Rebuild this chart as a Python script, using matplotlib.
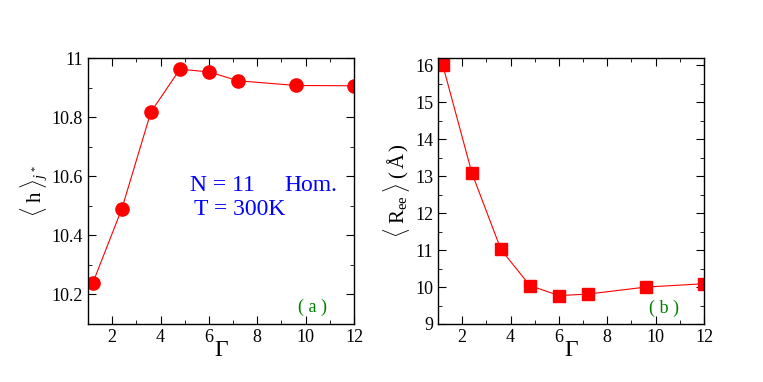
import numpy as np
import matplotlib
matplotlib.use("Agg")
import matplotlib.pyplot as plt
from matplotlib.ticker import MultipleLocator

# data
gamma = [1.2, 2.4, 3.6, 4.8, 6.0, 7.2, 9.6, 12.0]
h_jstar = [10.239, 10.49, 10.817, 10.962, 10.953, 10.923, 10.907, 10.906]
r_ee = [16.0, 13.09, 11.02, 10.04, 9.77, 9.81, 10.0, 10.09]

plt.rcParams['font.family'] = ['Liberation Serif', 'DejaVu Serif']
plt.rcParams['mathtext.fontset'] = 'custom'
plt.rcParams['mathtext.rm'] = 'Liberation Serif'
plt.rcParams['mathtext.it'] = 'Liberation Serif:italic'

fig = plt.figure(figsize=(7.63, 3.82), dpi=100)
W, H = 763, 382
ax1 = fig.add_axes([88 / W, 1 - 324 / H, (354 - 88) / W, (324 - 58) / H])
ax2 = fig.add_axes([438 / W, 1 - 324 / H, (704 - 438) / W, (324 - 58) / H])

ax1.plot(gamma, h_jstar, color='red', lw=0.8, marker='o', ms=9.5)
ax2.plot(gamma, r_ee, color='red', lw=0.8, marker='s', ms=8)

for ax in (ax1, ax2):
    ax.set_xlim(1, 12)
    ax.xaxis.set_major_locator(MultipleLocator(2))
    ax.xaxis.set_minor_locator(MultipleLocator(1))
    ax.tick_params(which='both', direction='in', top=True, right=True, labelsize=13)
    ax.tick_params(which='major', length=6)
    ax.tick_params(which='minor', length=3)
    ax.set_xlabel(r'$\Gamma$', fontsize=17, labelpad=-4)
    for s in ax.spines.values():
        s.set_linewidth(1.0)

ax1.set_ylim(10.1, 11.0)
ax1.yaxis.set_major_locator(MultipleLocator(0.2))
ax1.yaxis.set_minor_locator(MultipleLocator(0.1))
ax1.set_yticks([10.2, 10.4, 10.6, 10.8, 11.0])
ax1.set_yticklabels(['10.2', '10.4', '10.6', '10.8', '11'])
ax1.set_ylabel(r'$\langle\;\mathrm{h}\;\rangle_{j^*}$', fontsize=15, labelpad=2)

ax2.set_ylim(9, 16.2)
ax2.yaxis.set_major_locator(MultipleLocator(1))
ax2.yaxis.set_minor_locator(MultipleLocator(0.5))
ax2.set_ylabel(r'$\langle\;\mathrm{R_{ee}}\;\rangle\;(\,\mathrm{\AA}\,)$', fontsize=15, labelpad=2)

ax1.text(0.383, 0.50, 'N = 11', transform=ax1.transAxes, color='blue', fontsize=17)
ax1.text(0.737, 0.50, 'Hom.', transform=ax1.transAxes, color='blue', fontsize=17)
ax1.text(0.40, 0.41, 'T = 300K', transform=ax1.transAxes, color='blue', fontsize=17)
ax1.text(0.79, 0.045, '( a )', transform=ax1.transAxes, color='green', fontsize=13)
ax2.text(0.795, 0.04, '( b )', transform=ax2.transAxes, color='green', fontsize=13)

fig.savefig('out.png', dpi=100)
